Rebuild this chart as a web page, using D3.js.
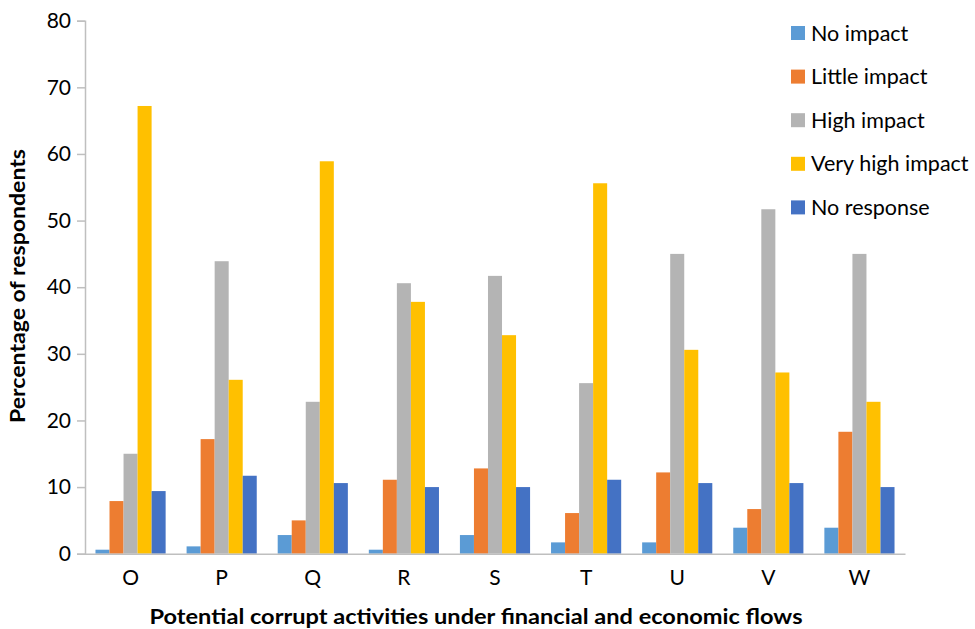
<!DOCTYPE html>
<html>
<head>
<meta charset="utf-8">
<script src="https://cdn.jsdelivr.net/npm/d3@7"></script>
<style>
  html, body { margin: 0; padding: 0; background: #fff; }
  svg text { font-family: Lato, "Open Sans", "Liberation Sans", sans-serif; fill: #000; }
</style>
</head>
<body>
<svg id="chart" width="975" height="629"></svg>
<script>
// Activity codes along the x axis
const categories = ["O", "P", "Q", "R", "S", "T", "U", "V", "W"];

// Percentage of respondents per impact rating
const seriesNames = ["No impact", "Little impact", "High impact", "Very high impact", "No response"];
const noImpact       = [0.6, 1.1, 2.8, 0.6, 2.8, 1.7, 1.7, 3.9, 3.9];
const littleImpact   = [7.9, 17.2, 5.0, 11.1, 12.8, 6.1, 12.2, 6.7, 18.3];
const highImpact     = [15.0, 43.9, 22.8, 40.6, 41.7, 25.6, 45.0, 51.7, 45.0];
const veryHighImpact = [67.2, 26.1, 58.9, 37.8, 32.8, 55.6, 30.6, 27.2, 22.8];
const noResponse     = [9.4, 11.7, 10.6, 10.0, 10.0, 11.1, 10.6, 10.6, 10.0];

const yTicks = [0, 10, 20, 30, 40, 50, 60, 70, 80];
const colors = ["#5B9BD5", "#ED7D31", "#B4B4B4", "#FFC000", "#4472C4"];

const seriesValues = [noImpact, littleImpact, highImpact, veryHighImpact, noResponse];
const rows = categories.map((c, i) => ({
  cat: c,
  vals: seriesValues.map((s, k) => ({ key: seriesNames[k], k, v: s[i] }))
}));

const svg = d3.select("#chart");
const plotLeft = 85, plotRight = 905, plotTop = 20.7, plotBottom = 553.7;

const x = d3.scaleBand().domain(categories).range([plotLeft, plotRight]).paddingInner(0.23).paddingOuter(0.115);
const xs = d3.scaleBand().domain(d3.range(seriesNames.length)).range([0, x.bandwidth()]);
const y = d3.scaleLinear().domain([0, 80]).range([plotBottom, plotTop]);

// Bars
svg.append("g").selectAll("g.cat").data(rows).join("g")
  .attr("class", "cat")
  .attr("transform", d => `translate(${x(d.cat)},0)`)
  .selectAll("rect").data(d => d.vals).join("rect")
  .attr("x", d => xs(d.k))
  .attr("width", xs.bandwidth())
  .attr("y", d => y(d.v))
  .attr("height", d => y(0) - y(d.v))
  .attr("fill", d => colors[d.k]);

// Y axis
const yAxis = svg.append("g")
  .attr("transform", `translate(${plotLeft},0)`)
  .call(d3.axisLeft(y).tickValues(yTicks).tickSize(8).tickPadding(6).tickFormat(d3.format("d")));
yAxis.select(".domain").attr("stroke", "#BFBFBF").attr("stroke-width", 1.5);
yAxis.selectAll(".tick line").attr("stroke", "#BFBFBF").attr("stroke-width", 1.5);
yAxis.selectAll(".tick text").attr("font-size", 21).attr("font-family", "Lato, 'Open Sans', sans-serif").attr("fill", "#000");

// X axis
const xAxis = svg.append("g")
  .attr("transform", `translate(0,${plotBottom})`)
  .call(d3.axisBottom(x).tickSize(0).tickPadding(16));
xAxis.select(".domain").attr("stroke", "#BFBFBF").attr("stroke-width", 1.5);
xAxis.selectAll(".tick text").attr("font-size", 21).attr("font-family", "Lato, 'Open Sans', sans-serif").attr("fill", "#000").attr("dy", "0.71em");

// Axis titles
svg.append("text")
  .attr("x", 476).attr("y", 624)
  .attr("text-anchor", "middle")
  .attr("font-size", 20).attr("font-weight", "bold")
  .attr("textLength", 653).attr("lengthAdjust", "spacingAndGlyphs")
  .text("Potential corrupt activities under financial and economic flows");

svg.append("text")
  .attr("transform", `translate(25,${286}) rotate(-90)`)
  .attr("text-anchor", "middle")
  .attr("font-size", 20).attr("font-weight", "bold")
  .attr("textLength", 274).attr("lengthAdjust", "spacingAndGlyphs")
  .text("Percentage of respondents");

// Legend
const legend = svg.append("g").attr("transform", "translate(791,33)");
const items = legend.selectAll("g").data(seriesNames).join("g")
  .attr("transform", (d, i) => `translate(0,${i * 43.6})`);
items.append("rect").attr("x", 0).attr("y", -7).attr("width", 14).attr("height", 14)
  .attr("fill", (d, i) => colors[i]);
items.append("text").attr("x", 20).attr("y", 0).attr("dy", "0.35em")
  .attr("font-size", 21.5).text(d => d);
</script>
</body>
</html>
